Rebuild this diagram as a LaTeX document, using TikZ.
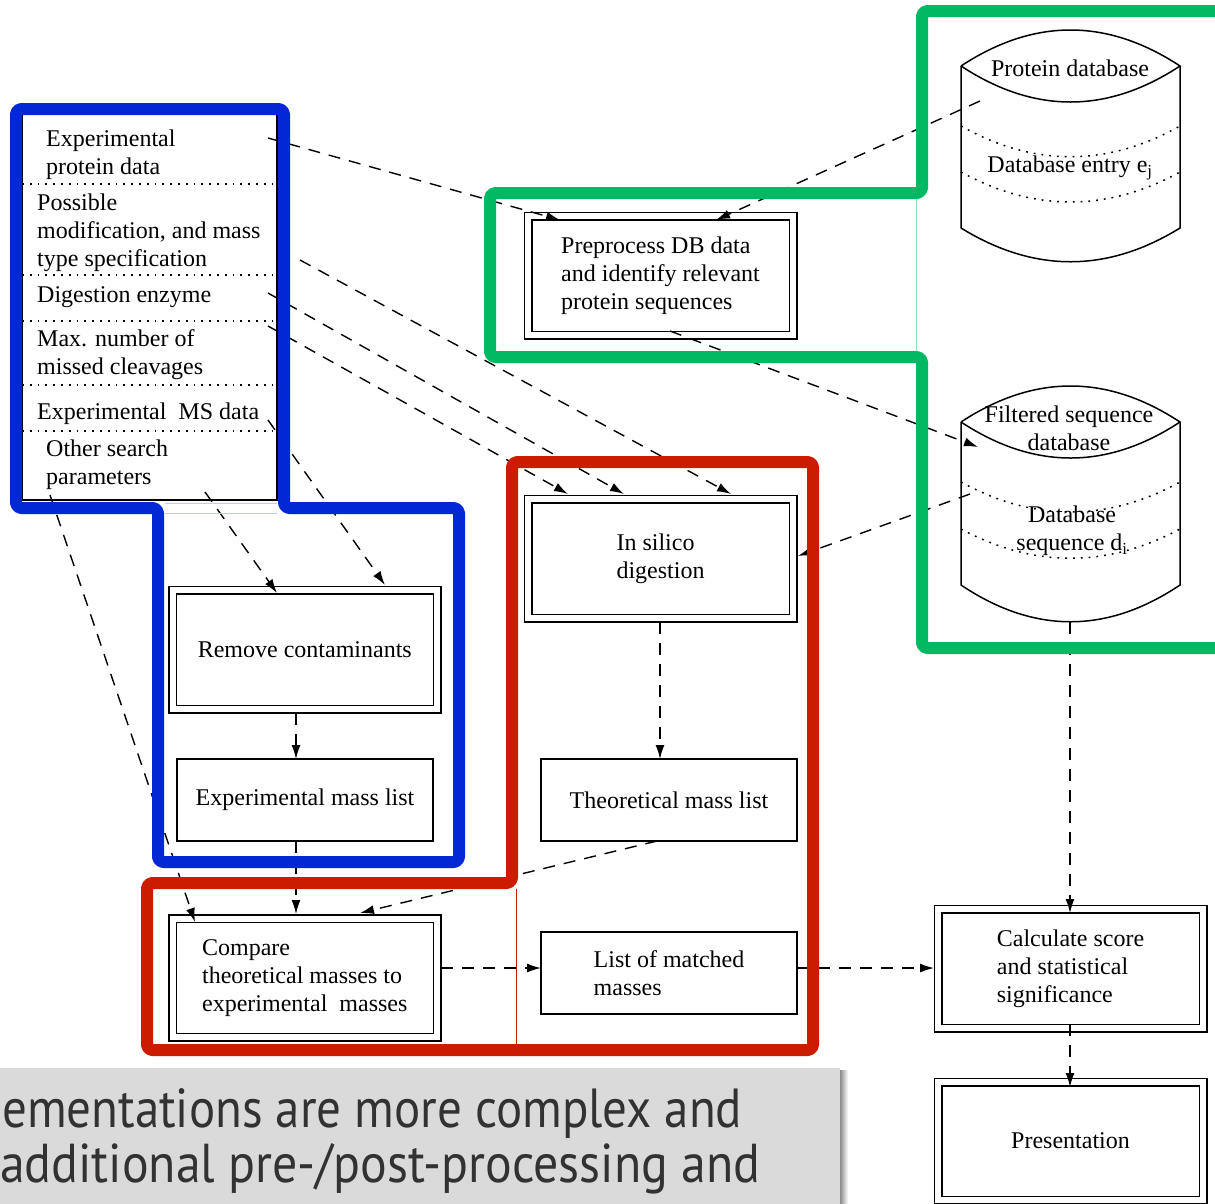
\documentclass[tikz,border=0pt]{standalone}
\usepackage{fontspec}
\setmainfont{Liberation Serif}
\newfontfamily\notefont{PT Sans}
\usetikzlibrary{arrows.meta,calc}
\definecolor{fblue}{RGB}{2,40,214}
\definecolor{fgreen}{RGB}{0,185,98}
\definecolor{fred}{RGB}{204,28,0}
\definecolor{notegray}{RGB}{218,218,218}
\definecolor{notetext}{RGB}{50,50,50}
\begin{document}
\begin{tikzpicture}[x=1pt,y=-1pt,
  every node/.style={font=\fontsize{24}{28}\selectfont, inner sep=0pt},
  dbox/.style={draw, line width=1.5pt, double=white, double distance=6pt, align=left},
  sbox/.style={draw, line width=1.5pt, align=left},
  flow/.style={line width=1.4pt, dash pattern=on 12pt off 9pt, -{Latex[length=14pt,width=9pt]}},
  sep/.style={line width=1.5pt, dash pattern=on 1.8pt off 6pt},
  cyl/.style={line width=1.5pt},
  frame/.style={line width=12pt, rounded corners=5pt, line join=round},
]
\useasboundingbox (0,0) rectangle (1215,1203);

% ---------- input parameter box ----------
\node[draw, line width=1.5pt, minimum width=255pt, minimum height=388pt] (inputs) at (149.5,306) {};
\draw[sep] (22,184) -- (277,184);
\draw[sep] (22,275) -- (277,275);
\draw[sep] (22,321) -- (277,321);
\draw[sep] (22,385) -- (277,385);
\draw[sep] (22,431) -- (277,431);
\node[anchor=west, align=left] (r1) at (46,155) {Experimental\\protein data};
\node[anchor=west, align=left] (r2) at (37,233) {Possible\\modification, and mass\\type specification};
\node[anchor=west] (r3) at (37,297) {Digestion enzyme};
\node[anchor=west, align=left] (r4) at (37,355) {Max. number of\\missed cleavages};
\node[anchor=west] (r5) at (37,414) {Experimental\ \ MS data};
\node[anchor=west, align=left] (r6) at (46,465) {Other search\\parameters};

% ---------- process boxes ----------
\node[dbox, minimum width=265pt, minimum height=119pt] (pre) at (660.5,275.5) {Preprocess DB data\\and identify relevant\\protein sequences};
\node[dbox, minimum width=265pt, minimum height=119pt] (silico) at (660.5,558.5) {In silico\\digestion};
\node[dbox, minimum width=264.5pt, minimum height=119pt] (remove) at (304.75,649.5) {Remove contaminants};
\node[sbox, minimum width=256pt, minimum height=82pt] (expmass) at (305,800) {Experimental mass list};
\node[sbox, minimum width=256pt, minimum height=82pt] (theo) at (669,800) {Theoretical mass list};
\node[dbox, minimum width=264.5pt, minimum height=118.5pt] (compare) at (304.75,977.75) {Compare\\theoretical masses to\\experimental\ \ masses};
\node[sbox, minimum width=256pt, minimum height=82pt] (matched) at (669,973) {List of matched\\masses};
\node[dbox, minimum width=265pt, minimum height=119pt] (calc) at (1070.5,968.5) {Calculate score\\and statistical\\significance};
\node[dbox, minimum width=265pt, minimum height=118pt] (pres) at (1070.5,1141) {Presentation};

% ---------- cylinders ----------
\draw[cyl] (961,66) .. controls (1034,18) and (1107,18) .. (1180,66)
           .. controls (1107,114) and (1034,114) .. (961,66);
\draw[cyl] (961,66) -- (961,228) .. controls (1034,273) and (1107,273) .. (1180,228) -- (1180,66);
\draw[sep] (961,126) .. controls (1034,167) and (1107,167) .. (1180,126);
\draw[sep] (961,172) .. controls (1034,212) and (1107,212) .. (1180,172);
\node (pdbtext) at (1070,68) {Protein database};
\node (entry) at (1070,168) {Database entry e\textsubscript{j}};

\draw[cyl] (961,422) .. controls (1034,374) and (1107,374) .. (1180,422)
           .. controls (1107,470) and (1034,470) .. (961,422);
\draw[cyl] (961,422) -- (961,585) .. controls (1034,634) and (1107,634) .. (1180,585) -- (1180,422);
\draw[sep] (961,482) .. controls (1034,522) and (1107,522) .. (1180,482);
\draw[sep] (961,529) .. controls (1034,568) and (1107,568) .. (1180,529);
\node[align=center] (fdbtext) at (1069,428) {Filtered sequence\\database};
\node[align=center] (dseq) at (1072,531) {Database\\sequence d\textsubscript{i}};

% ---------- connector end points ----------
\coordinate (r1o) at (268,138);
\coordinate (r2o) at (300,260);
\coordinate (r3o) at (268,293);
\coordinate (r4o) at (268,326);
\coordinate (r5o) at (268,420);
\coordinate (r6a) at (205,492);
\coordinate (r6b) at (50,495);
\coordinate (pdbo) at (980,101);
\coordinate (fdbi) at (978,447);
\coordinate (fdbo) at (970,494);
\coordinate (fdbb) at (1070,622);
\coordinate (prein1) at (560,220);
\coordinate (prein2) at (716,220);
\coordinate (preout) at (670,331);
\coordinate (silin1) at (568,494);
\coordinate (silin2) at (624,494);
\coordinate (silin3) at (731,494);
\coordinate (silin4) at (798,556);
\coordinate (silout) at (660,622);
\coordinate (theoin) at (660,759);
\coordinate (theoout) at (657,841);
\coordinate (remin1) at (277,593);
\coordinate (remin2) at (385,585);
\coordinate (remout) at (296,713);
\coordinate (expin) at (296,759);
\coordinate (expout) at (296,841);
\coordinate (cmpin1) at (195,922);
\coordinate (cmpin2) at (296,914);
\coordinate (cmpin3) at (360,913);
\coordinate (cmpout) at (441,968);
\coordinate (matin) at (541,968);
\coordinate (matout) at (797,968);
\coordinate (calcin1) at (934,968);
\coordinate (calcin2) at (1070,913);
\coordinate (calcout) at (1070,1024);
\coordinate (presin) at (1070,1087);

% ---------- connectors ----------
\draw[flow] (r1o) -- (prein1);
\draw[flow] (pdbo) -- (prein2);
\draw[flow] (preout) -- (fdbi);
\draw[flow] (r2o) -- (silin3);
\draw[flow] (r3o) -- (silin2);
\draw[flow] (r4o) -- (silin1);
\draw[flow] (fdbo) -- (silin4);
\draw[flow] (r5o) -- (remin2);
\draw[flow] (r6a) -- (remin1);
\draw[flow] (r6b) -- (cmpin1);
\draw[flow] (silout) -- (theoin);
\draw[flow] (remout) -- (expin);
\draw[flow] (expout) -- (cmpin2);
\draw[flow] (theoout) -- (cmpin3);
\draw[flow] (cmpout) -- (matin);
\draw[flow] (matout) -- (calcin1);
\draw[flow] (fdbb) -- (calcin2);
\draw[flow] (calcout) -- (presin);

% ---------- coloured frames ----------
\draw[fblue!25, line width=1pt] (165,503) -- (277,503) (165,513) -- (277,513);
\draw[fgreen!45, line width=1pt] (916,198) -- (916,352);
\draw[fred, line width=0.8pt] (516,889) -- (516,1044);
\draw[frame, fblue] (16,109) -- (284,109) -- (284,508) -- (459,508) -- (459,862)
   -- (158,862) -- (158,508) -- (16,508) -- cycle;
\draw[frame, fgreen] (1230,11) -- (922,11) -- (922,193) -- (490,193) -- (490,357)
   -- (922,357) -- (922,648) -- (1230,648);
\draw[frame, fred] (512,462) -- (813,462) -- (813,1050) -- (147,1050) -- (147,883)
   -- (512,883) -- cycle;

% ---------- note panel ----------
\shade[left color=black!45, right color=white] (840,1070) rectangle (848,1210);
\fill[notegray] (0,1068) rectangle (840,1210);
\node[anchor=base west, text=notetext] (note1) at (2,1127)
  {\resizebox{740pt}{39pt}{\notefont ementations are more complex and}};
\node[anchor=base west, text=notetext] (note2) at (0,1182)
  {\resizebox{760pt}{39pt}{\notefont additional pre-/post-processing and}};
\end{tikzpicture}
\end{document}
